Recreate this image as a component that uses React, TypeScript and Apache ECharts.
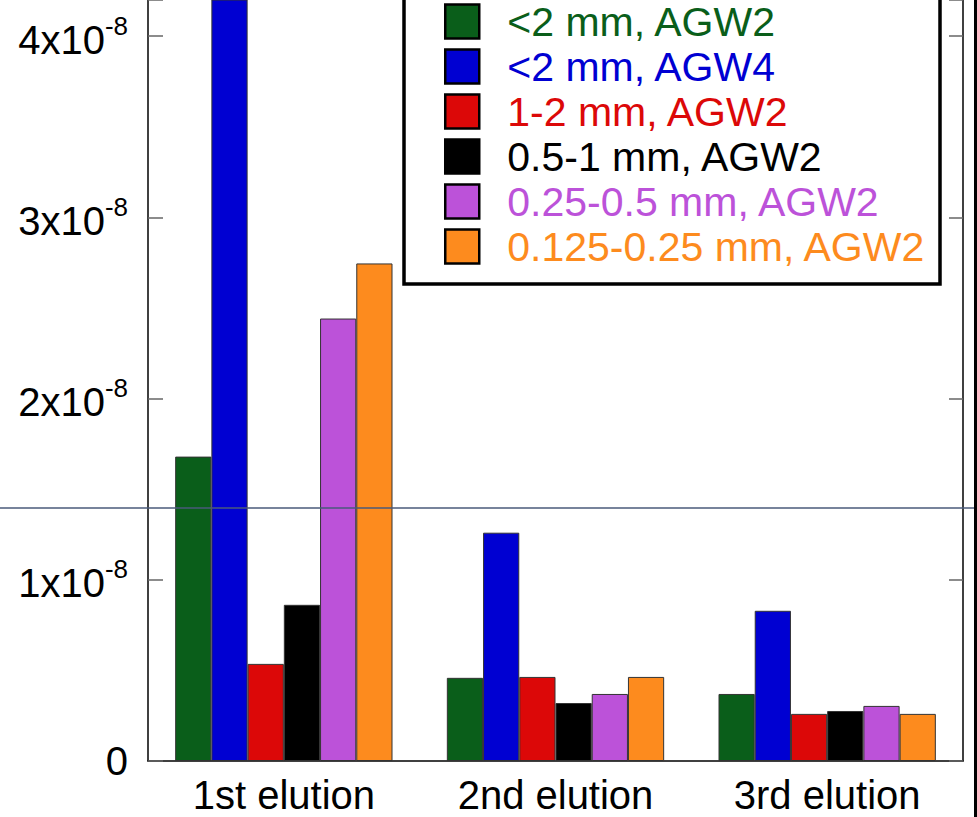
import React, { useEffect, useRef } from "react";
import * as echarts from "echarts";

const categories = ["1st elution", "2nd elution", "3rd elution"];
const seriesNames = [
  "<2 mm, AGW2",
  "<2 mm, AGW4",
  "1-2 mm, AGW2",
  "0.5-1 mm, AGW2",
  "0.25-0.5 mm, AGW2",
  "0.125-0.25 mm, AGW2",
];
const seriesColors = ["#0a5e1a", "#0000d2", "#dc0808", "#000000", "#bc52d9", "#fd8b1e"];
const agw2Lt2 = [1.68e-8, 0.459e-8, 0.37e-8];
const agw4Lt2 = [4.6e-8, 1.26e-8, 0.829e-8];
const agw2_1_2 = [0.536e-8, 0.464e-8, 0.26e-8];
const agw2_05_1 = [0.862e-8, 0.32e-8, 0.276e-8];
const agw2_025_05 = [2.442e-8, 0.37e-8, 0.304e-8];
const agw2_0125_025 = [2.746e-8, 0.464e-8, 0.26e-8];
const seriesValues = [agw2Lt2, agw4Lt2, agw2_1_2, agw2_05_1, agw2_025_05, agw2_0125_025];
const yTicks = [0, 1e-8, 2e-8, 3e-8, 4e-8];

const FONT = "'Liberation Sans', Arial, sans-serif";

export default function App() {
  const ref = useRef<HTMLDivElement>(null);
  useEffect(() => {
    if (!ref.current) return;
    const chart = echarts.init(ref.current, null, { renderer: "svg" });
    const tickStyle = { color: "#666", width: 1.5 };
    chart.setOption({
      animation: false,
      backgroundColor: "#fff",
      grid: { left: 148, right: 14, top: 0, bottom: 56, containLabel: false },
      xAxis: {
        type: "category",
        data: categories,
        axisLine: { lineStyle: { color: "#000", width: 1.5 } },
        axisTick: { inside: true, length: 14, lineStyle: tickStyle },
        axisLabel: { fontSize: 40, color: "#000", fontFamily: FONT, margin: 14 },
        splitLine: { show: false },
      },
      yAxis: [
        {
          type: "value",
          min: 0,
          max: 4.2e-8,
          interval: 1e-8,
          axisLine: { show: true, lineStyle: { color: "#000", width: 1.5 } },
          axisTick: { show: true, inside: true, length: 15, lineStyle: tickStyle },
          splitLine: { show: false },
          axisLabel: {
            margin: 20,
            formatter: (v: number) => {
              const n = Math.round(v / 1e-8);
              if (n === 0) return "{b|0}";
              if (!yTicks.some((t) => Math.abs(t - v) < 1e-12)) return "";
              return `{b|${n}x10}{s|-8}`;
            },
            rich: {
              b: { fontSize: 40, color: "#000", fontFamily: FONT, verticalAlign: "bottom" },
              s: { fontSize: 26, color: "#000", fontFamily: FONT, verticalAlign: "bottom", padding: [0, 0, 21, 0] },
            },
          },
        },
        {
          type: "value",
          position: "right",
          min: 0,
          max: 4.2e-8,
          interval: 1e-8,
          axisLine: { show: true, lineStyle: { color: "#000", width: 1.5 } },
          axisTick: { show: true, inside: true, length: 14, lineStyle: tickStyle },
          axisLabel: { show: false },
          splitLine: { show: false },
        },
      ],
      legend: {
        orient: "vertical",
        left: 444,
        top: 1,
        padding: 0,
        icon: "rect",
        itemWidth: 34,
        itemHeight: 34,
        itemGap: 4,
        itemStyle: { borderColor: "#000", borderWidth: 2.5 },
        textStyle: { fontSize: 41, lineHeight: 34, fontFamily: FONT, padding: [0, 0, 0, 23] },
        data: seriesNames.map((n, i) => ({ name: n, textStyle: { color: seriesColors[i] } })),
      },
      series: seriesNames.map((n, i) => ({
        name: n,
        type: "bar",
        data: seriesValues[i],
        barGap: "0%",
        barCategoryGap: "20%",
        clip: true,
        itemStyle: { color: seriesColors[i], borderColor: "#333", borderWidth: 1 },
      })),
      graphic: [
        {
          type: "rect",
          shape: { x: 404, y: -10, width: 536, height: 294 },
          style: { fill: "#fff", stroke: "#000", lineWidth: 3.5 },
          z: 1,
        },
        {
          type: "line",
          shape: { x1: 0, y1: 508, x2: 977, y2: 508 },
          style: { stroke: "#4a5a7a", lineWidth: 1.5 },
          z: 100,
        },
        {
          type: "line",
          shape: { x1: 975.5, y1: 0, x2: 975.5, y2: 817 },
          style: { stroke: "#000", lineWidth: 3 },
          z: 100,
        },
      ],
    });
    return () => chart.dispose();
  }, []);
  return <div ref={ref} style={{ position: "fixed", left: 0, top: 0, width: 977, height: 817 }} />;
}
